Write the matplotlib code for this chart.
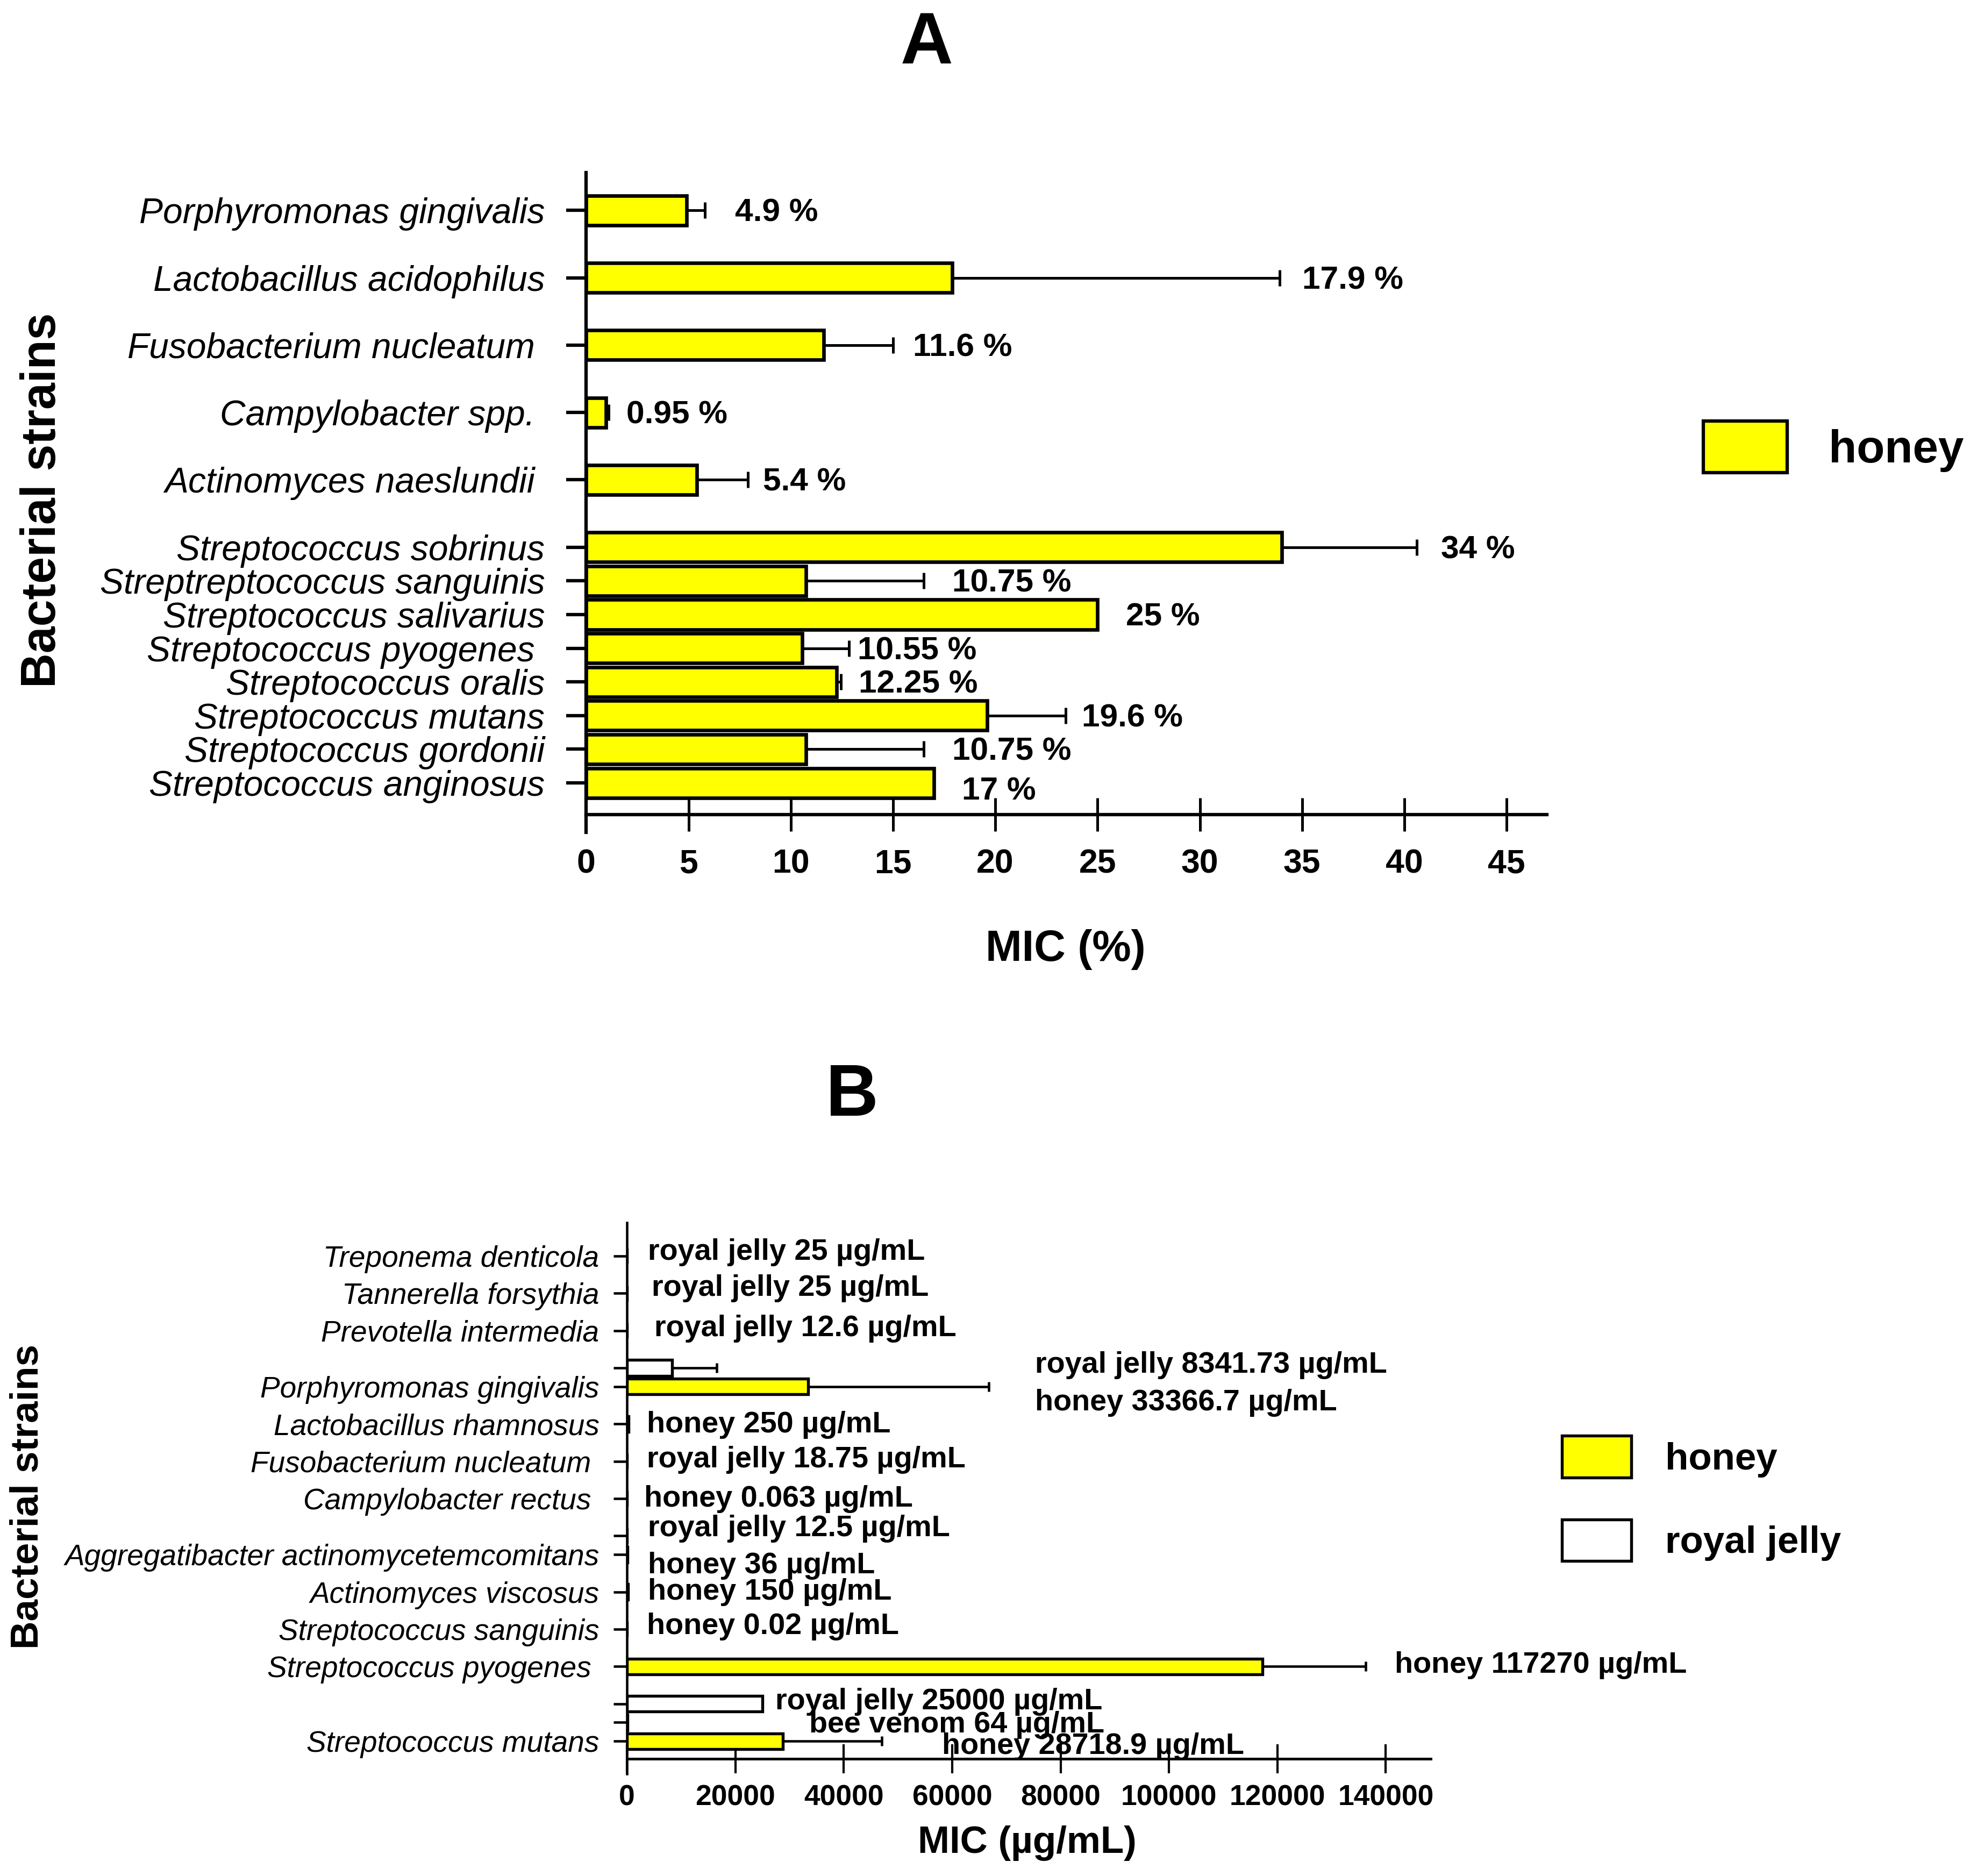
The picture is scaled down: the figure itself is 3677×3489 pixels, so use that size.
import numpy as np
import matplotlib
matplotlib.use("Agg")
import matplotlib.pyplot as plt
from matplotlib.patches import Patch

plt.rcParams['font.family'] = ['Liberation Sans', 'DejaVu Sans']

# ----------------------------
# Panel A data (MIC of honey, %)
# ----------------------------
a_strains = ['Porphyromonas gingivalis', 'Lactobacillus acidophilus',
             'Fusobacterium nucleatum ', 'Campylobacter spp. ',
             'Actinomyces naeslundii ', 'Streptococcus sobrinus',
             'Streptreptococcus sanguinis', 'Streptococcus salivarius',
             'Streptococcus pyogenes ', 'Streptococcus oralis',
             'Streptococcus mutans', 'Streptococcus gordonii',
             'Streptococcus anginosus']
a_mic = [4.9, 17.9, 11.6, 0.95, 5.4, 34, 10.75, 25, 10.55, 12.25, 19.6, 10.75, 17]
a_sd = [0.9, 16.0, 3.4, 0.15, 2.5, 6.6, 5.75, 0, 2.3, 0.2, 3.85, 5.75, 0]
a_labels = ['4.9 %', '17.9 %', '11.6 %', '0.95 %', '5.4 %', '34 %', '10.75 %',
            '25 %', '10.55 %', '12.25 %', '19.6 %', '10.75 %', '17 %']
a_xticks = [0, 5, 10, 15, 20, 25, 30, 35, 40, 45]

# ----------------------------
# Panel B data (MIC, ug/mL)
# ----------------------------
b_ticklabels = ['Treponema denticola', 'Tannerella forsythia', 'Prevotella intermedia',
                '', 'Porphyromonas gingivalis', 'Lactobacillus rhamnosus',
                'Fusobacterium nucleatum ', 'Campylobacter rectus ', '',
                'Aggregatibacter actinomycetemcomitans', 'Actinomyces viscosus',
                'Streptococcus sanguinis', 'Streptococcus pyogenes ', '', '',
                'Streptococcus mutans']
b_agent = ['royal jelly', 'royal jelly', 'royal jelly', 'royal jelly', 'honey', 'honey',
           'royal jelly', 'honey', 'royal jelly', 'honey', 'honey', 'honey', 'honey',
           'royal jelly', 'bee venom', 'honey']
b_mic = [25, 25, 12.6, 8341.73, 33366.7, 250, 18.75, 0.063, 12.5, 36, 150, 0.02,
         117270, 25000, 64, 28718.9]
b_sd = [0, 0, 0, 8200, 33400, 0, 0, 0, 0, 0, 0, 0, 19000, 0, 0, 18300]
b_xticks = [0, 20000, 40000, 60000, 80000, 100000, 120000, 140000]

# ----------------------------
# Layout (row positions, label anchors)
# ----------------------------
a_rows = [17, 15, 13, 11, 9, 7, 6, 5, 4, 3, 2, 1, 0]
a_label_dx = [1.47, 1.12, 0.97, 0.87, 0.73, 1.2, 1.38, 1.39, 0.41, 0.87, 0.78, 1.38, 1.37]
a_label_dy = [-0.08] * 12 + [-0.26]

b_rows = [13, 12, 11, 10, 9.5, 8.5, 7.5, 6.5, 5.5, 5, 4, 3, 2, 1, 0.5, 0]
b_label_x = [3885, 4584, 5049, 75270, 75270, 3653, 3653, 3188, 3885, 3885, 3885,
             3653, 141650, 27380, 33660, 58090]
b_label_y = [13.1, 12.13, 11.05, 10.07, 9.07, 8.48, 7.53, 6.49, 5.69, 4.70, 3.99,
             3.07, 2.03, 1.05, 0.44, -0.14]

colors = {'honey': '#ffff00', 'royal jelly': 'white', 'bee venom': 'white'}

W, H = 3677, 3489
fig = plt.figure(figsize=(W / 300, H / 300), dpi=300)


def fx(px):
    return px / 1568.0


def fy(py):
    return 1 - py / 1488.0


# ----------------------------
# Panel A
# ----------------------------
axA = fig.add_axes([fx(465), fy(660), fx(1227) - fx(465), fy(137) - fy(660)])
axA.barh(a_rows, a_mic, height=0.88, color='#ffff00', edgecolor='black',
         linewidth=1.6, zorder=2)
a_has_err = np.array(a_sd) > 0
axA.errorbar(np.array(a_mic)[a_has_err], np.array(a_rows)[a_has_err],
             xerr=[np.zeros(a_has_err.sum()), np.array(a_sd)[a_has_err]],
             fmt='none', ecolor='black', elinewidth=1.2, capsize=3.6,
             capthick=1.2, zorder=3)
for v, e, r, lab, dx, dy in zip(a_mic, a_sd, a_rows, a_labels, a_label_dx, a_label_dy):
    axA.text(v + e + dx, r + dy, lab, fontsize=14.5, fontweight='bold',
             ha='left', va='center')

axA.set_xlim(0, 46.98)
axA.set_ylim(-1.46, 18.12)
axA.spines['top'].set_visible(False)
axA.spines['right'].set_visible(False)
axA.spines['bottom'].set_position(('data', -0.936))
axA.spines['left'].set_linewidth(1.5)
axA.spines['bottom'].set_linewidth(1.5)
axA.set_yticks(a_rows)
axA.set_yticklabels(a_strains, fontstyle='italic', fontsize=15.8)
axA.set_xticks(a_xticks)
axA.set_xticklabels([str(t) for t in a_xticks], fontweight='bold', fontsize=15)
axA.tick_params(axis='y', direction='out', length=9, width=1.5, pad=9.5)
axA.tick_params(axis='x', direction='inout', length=15, width=1.2, pad=7.5)

axA.set_xlabel('MIC (%)', fontsize=19.5, fontweight='bold')
axA.xaxis.set_label_coords(0.4987, -0.178)
axA.xaxis.label.set_va('center')
axA.set_ylabel('Bacterial strains', fontsize=21.5, fontweight='bold')
axA.yaxis.set_label_coords(-0.5656, 0.503)
axA.yaxis.label.set_va('center')

axA.legend(handles=[Patch(facecolor='#ffff00', edgecolor='black', linewidth=1.5)],
           labels=['honey'], loc='center left',
           bbox_to_anchor=(fx(1351), fy(354.5)), bbox_transform=fig.transFigure,
           frameon=False, prop={'weight': 'bold', 'size': 20.5},
           handlelength=1.82, handleheight=1.35, handletextpad=0.91,
           borderpad=0, borderaxespad=0)

fig.text(fx(735), fy(35.4), 'A', fontsize=32.5, fontweight='bold',
         ha='center', va='center')

# ----------------------------
# Panel B
# ----------------------------
axB = fig.add_axes([fx(497.3), fy(1407), fx(1134.8) - fx(497.3), fy(970) - fy(1407)])
axB.barh(b_rows, b_mic, height=0.42, color=[colors[a] for a in b_agent],
         edgecolor='black', linewidth=1.3, zorder=2)
b_has_err = np.array(b_sd) > 0
axB.errorbar(np.array(b_mic)[b_has_err], np.array(b_rows)[b_has_err],
             xerr=[np.zeros(b_has_err.sum()), np.array(b_sd)[b_has_err]],
             fmt='none', ecolor='black', elinewidth=1.1, capsize=2.2,
             capthick=1.1, zorder=3)
for ag, v, lx, ly in zip(b_agent, b_mic, b_label_x, b_label_y):
    axB.text(lx, ly, f'{ag} {v:g} µg/mL', fontsize=13.4, fontweight='bold',
             ha='left', va='center')

axB.set_xlim(0, 148300)
axB.set_ylim(-0.878, 13.885)
axB.spines['top'].set_visible(False)
axB.spines['right'].set_visible(False)
axB.spines['bottom'].set_position(('data', -0.473))
axB.spines['left'].set_linewidth(1.1)
axB.spines['bottom'].set_linewidth(1.2)
axB.set_yticks(b_rows)
axB.set_yticklabels(b_ticklabels, fontstyle='italic', fontsize=13.2)
axB.set_xticks(b_xticks)
axB.set_xticklabels([str(t) for t in b_xticks], fontweight='bold', fontsize=12.8)
axB.tick_params(axis='y', direction='out', length=6, width=1.1, pad=6.4)
axB.tick_params(axis='x', direction='inout', length=12.8, width=1.0, pad=5)

axB.set_xlabel('MIC (µg/mL)', fontsize=17, fontweight='bold')
axB.xaxis.set_label_coords(0.498, -0.126)
axB.xaxis.label.set_va('center')
axB.set_ylabel('Bacterial strains', fontsize=17.5, fontweight='bold')
axB.yaxis.set_label_coords(-0.7456, 0.503)
axB.yaxis.label.set_va('center')

axB.legend(handles=[Patch(facecolor='#ffff00', edgecolor='black', linewidth=1.3),
                    Patch(facecolor='white', edgecolor='black', linewidth=1.3)],
           labels=['honey', 'royal jelly'], loc='center left',
           bbox_to_anchor=(fx(1239), fy(1188.5)), bbox_transform=fig.transFigure,
           frameon=False, prop={'weight': 'bold', 'size': 17},
           handlelength=1.82, handleheight=1.31, handletextpad=0.89,
           labelspacing=1.1, borderpad=0, borderaxespad=0)

fig.text(fx(676), fy(870), 'B', fontsize=32.5, fontweight='bold',
         ha='center', va='center')

fig.savefig('out.png', dpi=300)
